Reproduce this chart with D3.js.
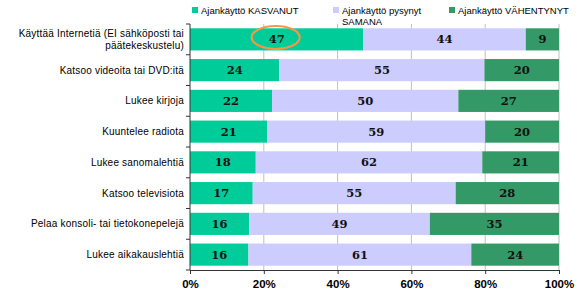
<!DOCTYPE html>
<html>
<head>
<meta charset="utf-8">
<script src="https://cdn.jsdelivr.net/npm/d3@7"></script>
<style>
  body { margin: 0; background: #fff; }
  svg { display: block; }
</style>
</head>
<body>
<div id="chart"></div>
<script>
// data
const categories = [
  "Käyttää Internetiä (EI sähköposti tai|päätekeskustelu)",
  "Katsoo videoita tai DVD:itä",
  "Lukee kirjoja",
  "Kuuntelee radiota",
  "Lukee sanomalehtiä",
  "Katsoo televisiota",
  "Pelaa konsoli- tai tietokonepelejä",
  "Lukee aikakauslehtiä"
];
const kasvanut = [47, 24, 22, 21, 18, 17, 16, 16];
const samana = [44, 55, 50, 59, 62, 55, 49, 61];
const vahentynyt = [9, 20, 27, 20, 21, 28, 35, 24];
const seriesNames = ["Ajankäyttö KASVANUT", "Ajankäyttö pysynyt|SAMANA", "Ajankäyttö VÄHENTYNYT"];
const tickValues = [0, 0.2, 0.4, 0.6, 0.8, 1];

const colors = ["#00CC99", "#CCCCFF", "#339966"];
const width = 586, height = 297;
const margin = { top: 24, right: 27, bottom: 27, left: 190 };

const svg = d3.select("#chart").append("svg")
  .attr("width", width)
  .attr("height", height);

const x = d3.scaleLinear().domain([0, 1]).range([margin.left, width - margin.right]);
const y = d3.scaleBand().domain(categories).range([margin.top, height - margin.bottom]).paddingInner(0.28).paddingOuter(0.14);
const yOuter = d3.scaleBand().domain(categories).range([margin.top, height - margin.bottom]);

// build stacked rows (normalised to 100 %)
const rows = categories.map((c, i) => {
  const vals = [kasvanut[i], samana[i], vahentynyt[i]];
  const total = d3.sum(vals);
  let acc = 0;
  return vals.map((v, k) => {
    const seg = { cat: c, k, v, x0: acc / total, x1: (acc + v) / total };
    acc += v;
    return seg;
  });
});

// gridlines
svg.append("g")
  .selectAll("line")
  .data(tickValues.slice(1))
  .enter().append("line")
  .attr("x1", d => x(d)).attr("x2", d => x(d))
  .attr("y1", margin.top).attr("y2", height - margin.bottom)
  .attr("stroke", "#C0C0C0")
  .attr("stroke-width", 1);

// bars
const segs = rows.flat();
svg.append("g")
  .selectAll("rect")
  .data(segs)
  .enter().append("rect")
  .attr("x", d => x(d.x0))
  .attr("y", d => y(d.cat))
  .attr("width", d => x(d.x1) - x(d.x0))
  .attr("height", y.bandwidth())
  .attr("fill", d => colors[d.k]);

// value labels
svg.append("g")
  .selectAll("text")
  .data(segs)
  .enter().append("text")
  .attr("x", d => (x(d.x0) + x(d.x1)) / 2)
  .attr("y", d => y(d.cat) + y.bandwidth() / 2 + 4)
  .attr("text-anchor", "middle")
  .attr("font-family", "'DejaVu Serif', serif")
  .attr("font-weight", "bold")
  .attr("font-size", "11.5px")
  .attr("fill", "#111")
  .text(d => d.v);

// highlight ellipse around the first value
const first = segs[0];
svg.append("ellipse")
  .attr("cx", (x(first.x0) + x(first.x1)) / 2 - 1)
  .attr("cy", y(first.cat) + y.bandwidth() / 2 - 2)
  .attr("rx", 24)
  .attr("ry", 11.5)
  .attr("fill", "none")
  .attr("stroke", "#F79646")
  .attr("stroke-width", 2);

// y axis line + ticks at category boundaries
const gy = svg.append("g");
gy.append("line")
  .attr("x1", margin.left).attr("x2", margin.left)
  .attr("y1", margin.top).attr("y2", height - margin.bottom)
  .attr("stroke", "#333");
gy.selectAll("line.tk")
  .data(categories.concat(["end"]))
  .enter().append("line")
  .attr("class", "tk")
  .attr("x1", margin.left - 4).attr("x2", margin.left)
  .attr("y1", (d, i) => margin.top + i * yOuter.step())
  .attr("y2", (d, i) => margin.top + i * yOuter.step())
  .attr("stroke", "#333");

// category labels
gy.selectAll("text")
  .data(categories)
  .enter().append("text")
  .attr("text-anchor", "end")
  .attr("font-family", "'Liberation Sans', Arial, sans-serif")
  .attr("font-size", "10px")
  .attr("letter-spacing", "0.2px")
  .attr("fill", "#000")
  .each(function (d) {
    const lines = d.split("|");
    const cy = y(d) + y.bandwidth() / 2;
    const start = cy + 3.5 - (lines.length - 1) * 6;
    lines.forEach((l, i) => {
      d3.select(this).append("tspan")
        .attr("x", margin.left - 6)
        .attr("y", start + i * 12)
        .text(l);
    });
  });

// x axis
const xAxis = d3.axisBottom(x)
  .tickValues(tickValues)
  .tickFormat(d3.format(".0%"))
  .tickSize(4)
  .tickSizeOuter(0);
const gx = svg.append("g")
  .attr("transform", `translate(0,${height - margin.bottom})`)
  .call(xAxis);
gx.select(".domain").attr("stroke", "#333");
gx.selectAll(".tick line").attr("stroke", "#333");
gx.selectAll(".tick text")
  .attr("dy", "0")
  .attr("y", 18)
  .attr("font-family", "'Liberation Sans', Arial, sans-serif")
  .attr("font-weight", "bold")
  .attr("font-size", "11.5px")
  .attr("fill", "#000");

// legend
const legendX = [192, 333, 449];
const lg = svg.append("g");
seriesNames.forEach((name, i) => {
  const g = lg.append("g").attr("transform", `translate(${legendX[i]},0)`);
  g.append("rect")
    .attr("x", 0).attr("y", 7)
    .attr("width", 6).attr("height", 6)
    .attr("fill", colors[i]);
  const t = g.append("text")
    .attr("font-family", "'Liberation Sans', Arial, sans-serif")
    .attr("font-size", "9.5px")
    .attr("fill", "#000");
  name.split("|").forEach((l, j) => {
    t.append("tspan").attr("x", 9).attr("y", 14 + j * 11).text(l);
  });
});
</script>
</body>
</html>
